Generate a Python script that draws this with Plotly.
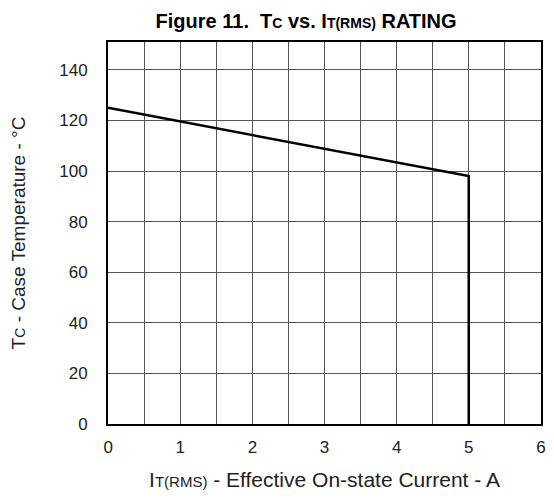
import plotly.graph_objects as go

current = [0, 5, 5]
temperature = [125, 98, 0]
x_ticks = [0, 1, 2, 3, 4, 5, 6]
y_ticks = [0, 20, 40, 60, 80, 100, 120, 140]

fig = go.Figure()
fig.add_trace(go.Scatter(x=current, y=temperature, mode="lines",
                         line=dict(color="black", width=2.5), showlegend=False,
                         cliponaxis=False))

def small(t, px):
    return f"<span style='font-size:{px}px'>{t}</span>"

fig.update_layout(
    width=546, height=490,
    margin=dict(l=100, r=8, t=34, b=74),
    paper_bgcolor="white", plot_bgcolor="white",
    font=dict(family="Liberation Sans, Arial", color="#222", size=17),
    title=dict(text="<b>Figure 11.  T" + small("C", 14) + " vs. I" + small("T(RMS)", 14) + " RATING</b>",
               x=0.546, xanchor="center", y=0.988, yanchor="top",
               font=dict(size=20, color="black")),
)
fig.update_xaxes(range=[-0.002, 6.002], tickvals=x_ticks, ticktext=[str(v) for v in x_ticks],
                 ticklabeloverflow="allow",
                 showgrid=True, gridcolor="#555", gridwidth=1.3,
                 minor=dict(dtick=0.5, showgrid=True, gridcolor="#555", gridwidth=1.3),
                 showline=True, linecolor="black", linewidth=2, mirror=True,
                 zeroline=False, ticks="", ticklabelstandoff=7,
                 title=dict(text="I" + small("T(RMS)", 15) + " - Effective On-state Current - A",
                            standoff=16, font=dict(size=21)))
fig.update_yaxes(range=[0, 151], tickvals=y_ticks,
                 showgrid=True, gridcolor="#555", gridwidth=1.3,
                 showline=True, linecolor="black", linewidth=2, mirror=True,
                 zeroline=False, ticks="", ticklabelstandoff=15,
                 title=dict(text="T" + small("C", 14) + " - Case Temperature - °C",
                            standoff=30, font=dict(size=19)))

fig.write_html("out.html")
